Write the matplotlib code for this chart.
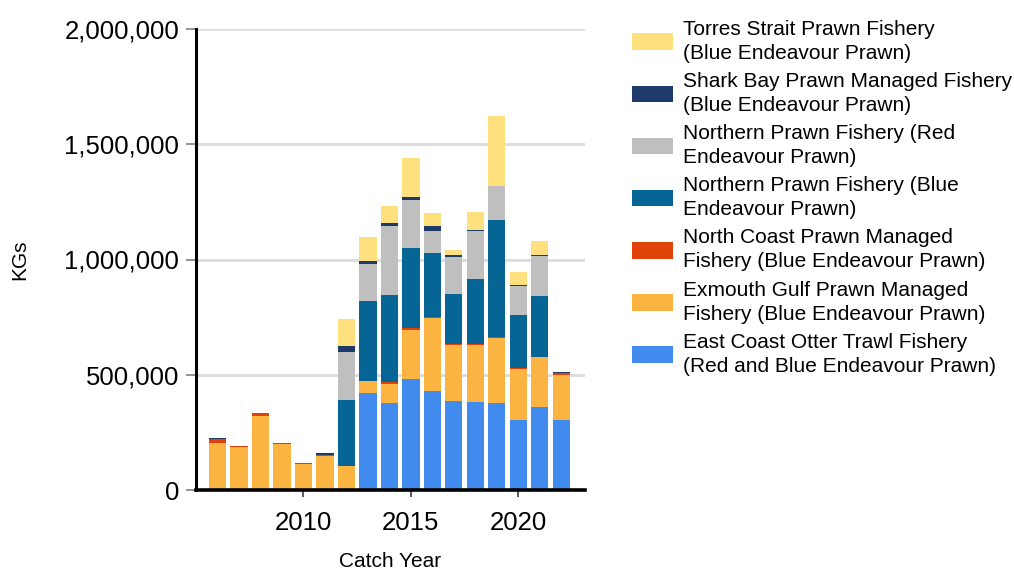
import numpy as np
import matplotlib.pyplot as plt
from matplotlib.ticker import FuncFormatter

plt.rcParams['font.family'] = ['Liberation Sans', 'DejaVu Sans']

# Catch years
years = np.arange(2006, 2023)

# Catch by fishery (KGs), bottom of stack first
east_coast = [0, 0, 0, 0, 0, 0, 0, 419000, 376000, 480000, 429000, 386000, 380000, 376000, 303000, 360000, 303000]
exmouth = [206000, 185000, 320000, 198000, 112000, 147000, 102000, 53000, 85000, 214000, 319000, 243000, 249000, 283000, 223000, 215000, 198000]
north_coast = [15000, 7000, 13000, 5000, 4000, 6000, 3000, 3000, 7000, 9000, 3000, 3000, 3000, 4000, 4000, 3000, 6000]
npf_blue = [0, 0, 0, 0, 0, 0, 284000, 344000, 379000, 348000, 279000, 218000, 282000, 510000, 231000, 263000, 0]
npf_red = [0, 0, 0, 0, 0, 0, 211000, 163000, 299000, 205000, 93000, 162000, 210000, 145000, 124000, 173000, 0]
shark_bay = [6000, 0, 0, 3000, 2000, 7000, 25000, 12000, 11000, 17000, 21000, 6000, 4000, 3000, 3000, 6000, 4000]
torres = [0, 0, 0, 0, 0, 0, 116000, 103000, 77000, 166000, 57000, 25000, 78000, 300000, 59000, 59000, 0]

labels = [
    "East Coast Otter Trawl Fishery\n(Red and Blue Endeavour Prawn)",
    "Exmouth Gulf Prawn Managed\nFishery (Blue Endeavour Prawn)",
    "North Coast Prawn Managed\nFishery (Blue Endeavour Prawn)",
    "Northern Prawn Fishery (Blue\nEndeavour Prawn)",
    "Northern Prawn Fishery (Red\nEndeavour Prawn)",
    "Shark Bay Prawn Managed Fishery\n(Blue Endeavour Prawn)",
    "Torres Strait Prawn Fishery\n(Blue Endeavour Prawn)",
]
series = [east_coast, exmouth, north_coast, npf_blue, npf_red, shark_bay, torres]
colors = ["#428BEE", "#FBB441", "#E0420A", "#076596", "#BFBFBF", "#1D3A6B", "#FFE07F"]

fig = plt.figure(figsize=(10.14, 5.7), dpi=100)
ax = fig.add_axes([196 / 1014, 1 - 490 / 570, (585 - 196) / 1014, (490 - 29) / 570])

bottom = np.zeros(len(years))
handles = []
for vals, col, lab in zip(series, colors, labels):
    b = ax.bar(years, vals, width=0.8, bottom=bottom, color=col, label=lab, linewidth=0)
    handles.append(b)
    bottom += np.array(vals)

ax.set_xlim(2005.0, 2023.1)
ax.set_ylim(0, 2000000)
ax.set_xticks([2010, 2015, 2020])
ax.set_yticks([0, 500000, 1000000, 1500000, 2000000])
ax.yaxis.set_major_formatter(FuncFormatter(lambda v, p: f"{int(v):,}"))

ax.grid(axis='y', color='#DCDCDC', linewidth=2)
ax.set_axisbelow(True)
for s in ['top', 'right']:
    ax.spines[s].set_visible(False)
ax.spines['left'].set_linewidth(2.2)
ax.spines['bottom'].set_linewidth(2.6)
ax.tick_params(axis='y', length=7, width=1.2, color='#808080', pad=5, labelsize=18.5)
ax.tick_params(axis='x', length=5, width=1.2, color='#404040', pad=10, labelsize=18.5)

ax.set_xlabel("Catch Year", fontsize=15, labelpad=12.5)
ax.set_ylabel("KGs", fontsize=15)
ax.yaxis.set_label_coords(-167 / 389, 0.50)

leg = fig.legend(handles[::-1], labels[::-1], loc='upper left',
                 bbox_to_anchor=(632 / 1014, 1 - 20 / 570), frameon=False,
                 fontsize=15, handlelength=1.96, handleheight=0.86,
                 handletextpad=0.5, labelspacing=0.44, borderpad=0, borderaxespad=0)
for t in leg.get_texts():
    t.set_linespacing(1.33)

fig.savefig("out.png", dpi=100)
